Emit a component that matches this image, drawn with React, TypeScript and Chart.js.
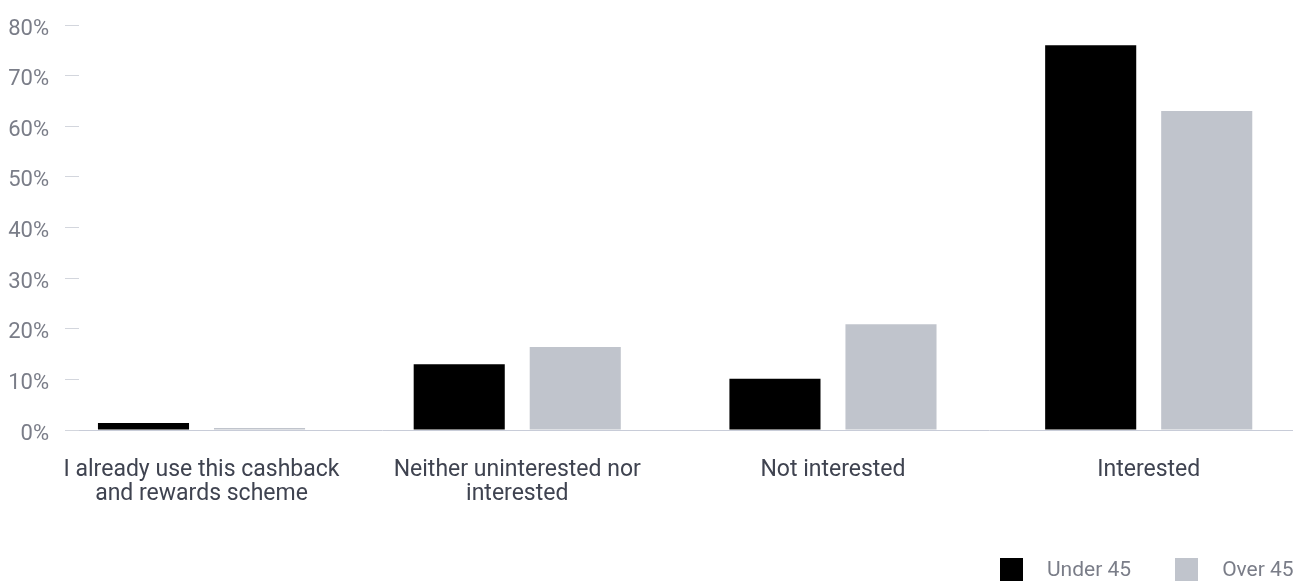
import React, { useEffect, useRef } from "react";
import { Chart, registerables } from "chart.js";

Chart.register(...registerables);

const categories: (string | string[])[] = [
  ["I already use this cashback", "and rewards scheme"],
  ["Neither uninterested nor", "interested"],
  "Not interested",
  "Interested",
];
const under45 = [1.4, 13.0, 10.1, 76.0];
const over45 = [0.4, 16.4, 20.9, 63.0];
const seriesNames = ["Under 45", "Over 45"];
const seriesColors = ["#000000", "#c0c4cc"];
const yTicks = [0, 10, 20, 30, 40, 50, 60, 70, 80];

export default function App() {
  const ref = useRef<HTMLCanvasElement | null>(null);
  useEffect(() => {
    if (!ref.current) return;
    const toPts = (arr: number[]) => arr.map((y, i) => ({ x: i, y }));
    const chart = new Chart(ref.current, {
      type: "bar",
      data: {
        datasets: [under45, over45].map((arr, k) => ({
          label: seriesNames[k],
          data: toPts(arr),
          backgroundColor: seriesColors[k],
          borderWidth: 0,
          categoryPercentage: 0.735,
          barPercentage: 0.785,
        })),
      },
      options: {
        animation: false,
        responsive: false,
        layout: { padding: { top: 25, right: 13, left: 0, bottom: 0 } },
        plugins: {
          tooltip: { enabled: false },
          legend: { display: false },
        },
        scales: {
          x: {
            type: "linear",
            offset: false,
            min: -0.388,
            max: 3.457,
            afterBuildTicks: (scale: any) => {
              scale.ticks = categories.map((_, i) => ({ value: i }));
            },
            grid: { display: false },
            border: { display: false },
            ticks: {
              autoSkip: false,
              maxRotation: 0,
              padding: 20,
              color: "#3f4350",
              font: { family: "Roboto", size: 23, lineHeight: 1.05 },
              callback: (v: any) => categories[v as number] as any,
            },
            afterFit: (scale: any) => {
              scale.height = 152;
              scale.paddingLeft = 0;
              scale.paddingRight = 0;
            },
          },
          y: {
            min: 0,
            max: 80,
            afterBuildTicks: (scale: any) => {
              scale.ticks = yTicks.map((v) => ({ value: v }));
            },
            border: { display: false },
            grid: {
              color: (ctx: any) => (ctx.tick && ctx.tick.value === 0 ? "#c8ccd8" : "rgba(0,0,0,0)"),
              tickColor: "#d3d6dd",
              tickLength: 14,
              lineWidth: 1,
            },
            ticks: {
              padding: 16,
              labelOffset: 4,
              color: "#7a7d88",
              font: { family: "Roboto", size: 22 },
              callback: (v: any) => v + "%",
            },
            afterFit: (scale: any) => {
              scale.width = 79;
              scale.paddingTop = 0;
              scale.paddingBottom = 0;
            },
          },
        },
      },
    });
    return () => chart.destroy();
  }, []);
  return (
    <div style={{ position: "absolute", left: 0, top: 0, width: 1306, height: 582 }}>
      <canvas ref={ref} width={1306} height={582} style={{ display: "block" }} />
      <div
        style={{
          position: "absolute",
          left: 1000,
          top: 558,
          display: "flex",
          alignItems: "center",
          fontFamily: "Roboto",
          fontSize: 21,
          color: "#7a7d88",
          lineHeight: "23px",
          whiteSpace: "nowrap",
        }}
      >
        {seriesNames.map((name, k) => (
          <div key={name} style={{ display: "flex", alignItems: "center", marginRight: k === 0 ? 44 : 0 }}>
            <span style={{ width: 23, height: 23, background: seriesColors[k], display: "inline-block", marginRight: 24 }} />
            <span>{name}</span>
          </div>
        ))}
      </div>
    </div>
  );
}
